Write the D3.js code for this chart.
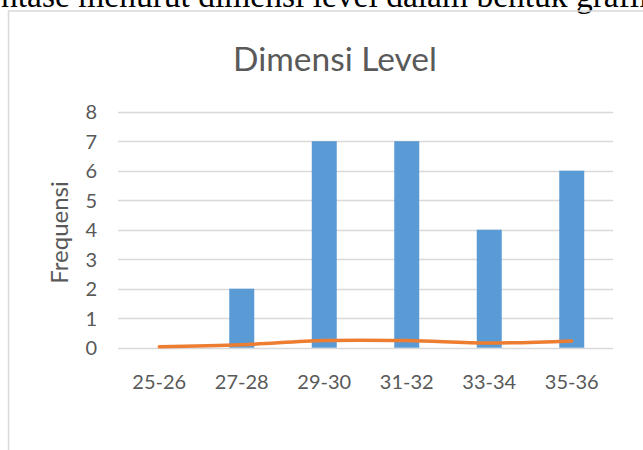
<!DOCTYPE html>
<html>
<head>
<meta charset="utf-8">
<script src="https://cdn.jsdelivr.net/npm/d3@7"></script>
<style>
  html, body { margin: 0; padding: 0; background: #fff; }
  svg { display: block; }
</style>
</head>
<body>
<svg id="chart" width="643" height="450"></svg>
<script>
// Frequency of scores per interval, dimension "Level"
const categories = ["25-26", "27-28", "29-30", "31-32", "33-34", "35-36"];
const frequencies = [0, 2, 7, 7, 4, 6];
const trendValues = [0.03, 0.1, 0.24, 0.24, 0.16, 0.23];
const yTicks = [0, 1, 2, 3, 4, 5, 6, 7, 8];
const chartTitle = "Dimensi Level";
const yAxisTitle = "Frequensi";
const captionText = "Persentase menurut dimensi level dalam bentuk grafik";
const captionPrefix = "Perse";

const svg = d3.select("#chart");
const W = 643, H = 450;
const textColor = "#595959";
const gridColor = "#d9d9d9";
const uiFont = "Lato, 'Open Sans', sans-serif";

// caption line of the surrounding document, mostly cut off at the top
const cap = svg.append("text")
  .attr("y", 6.5)
  .attr("font-family", "'Liberation Serif', 'Times New Roman', serif")
  .attr("font-size", 33.5)
  .attr("fill", "#000")
  .text(captionPrefix);
const prefixW = cap.node().getComputedTextLength();
cap.attr("x", 1 - prefixW).text(captionText);

// chart area frame
svg.append("path")
  .attr("d", `M8.5,${H + 2}V11H${W + 2}`)
  .attr("fill", "none")
  .attr("stroke", gridColor)
  .attr("stroke-width", 1.5);

const plot = { left: 118, right: 613, top: 111.7, bottom: 347.7 };

const x = d3.scaleBand()
  .domain(categories)
  .range([plot.left, plot.right])
  .padding(0);

const y = d3.scaleLinear()
  .domain([0, 8])
  .range([plot.bottom, plot.top]);

// horizontal gridlines
svg.append("g")
  .selectAll("line")
  .data(yTicks)
  .join("line")
  .attr("x1", plot.left)
  .attr("x2", plot.right)
  .attr("y1", d => Math.round(y(d)) + 0.5)
  .attr("y2", d => Math.round(y(d)) + 0.5)
  .attr("stroke", gridColor)
  .attr("stroke-width", 1.3);

// y axis labels
const yAxis = d3.axisLeft(y).tickValues(yTicks).tickSize(0).tickPadding(0).tickFormat(d3.format("d"));
const yg = svg.append("g").attr("transform", `translate(97,0)`).call(yAxis);
yg.select(".domain").remove();
yg.selectAll("text")
  .attr("fill", textColor)
  .attr("font-family", uiFont)
  .attr("font-size", 20)
  .attr("dy", "0.36em");

// x axis labels
const xAxis = d3.axisBottom(x).tickSize(0).tickPadding(0);
const xg = svg.append("g").attr("transform", `translate(0,389)`).call(xAxis);
xg.select(".domain").remove();
xg.selectAll("text")
  .attr("fill", textColor)
  .attr("font-family", uiFont)
  .attr("font-size", 20)
  .attr("dy", 0);

// bars
const barW = x.bandwidth() * 0.303;
svg.append("g")
  .selectAll("rect")
  .data(categories.map((c, i) => ({ c, v: frequencies[i] })))
  .join("rect")
  .attr("x", d => x(d.c) + x.bandwidth() / 2 - barW / 2)
  .attr("width", barW)
  .attr("y", d => y(d.v))
  .attr("height", d => y(0) - y(d.v))
  .attr("fill", "#5b9bd5");

// smoothed trend line
const line = d3.line()
  .x((d, i) => x(categories[i]) + x.bandwidth() / 2)
  .y(d => y(d))
  .curve(d3.curveCatmullRom.alpha(0.5));
svg.append("path")
  .datum(trendValues)
  .attr("d", line)
  .attr("fill", "none")
  .attr("stroke", "#ed7d31")
  .attr("stroke-width", 3.5)
  .attr("stroke-linecap", "round");

// titles
svg.append("text")
  .attr("x", 335)
  .attr("y", 70.7)
  .attr("text-anchor", "middle")
  .attr("font-family", uiFont)
  .attr("font-size", 33.5)
  .attr("fill", textColor)
  .text(chartTitle);

svg.append("text")
  .attr("transform", `translate(68,232.5) rotate(-90)`)
  .attr("text-anchor", "middle")
  .attr("font-family", uiFont)
  .attr("font-size", 24)
  .attr("fill", textColor)
  .text(yAxisTitle);
</script>
</body>
</html>
